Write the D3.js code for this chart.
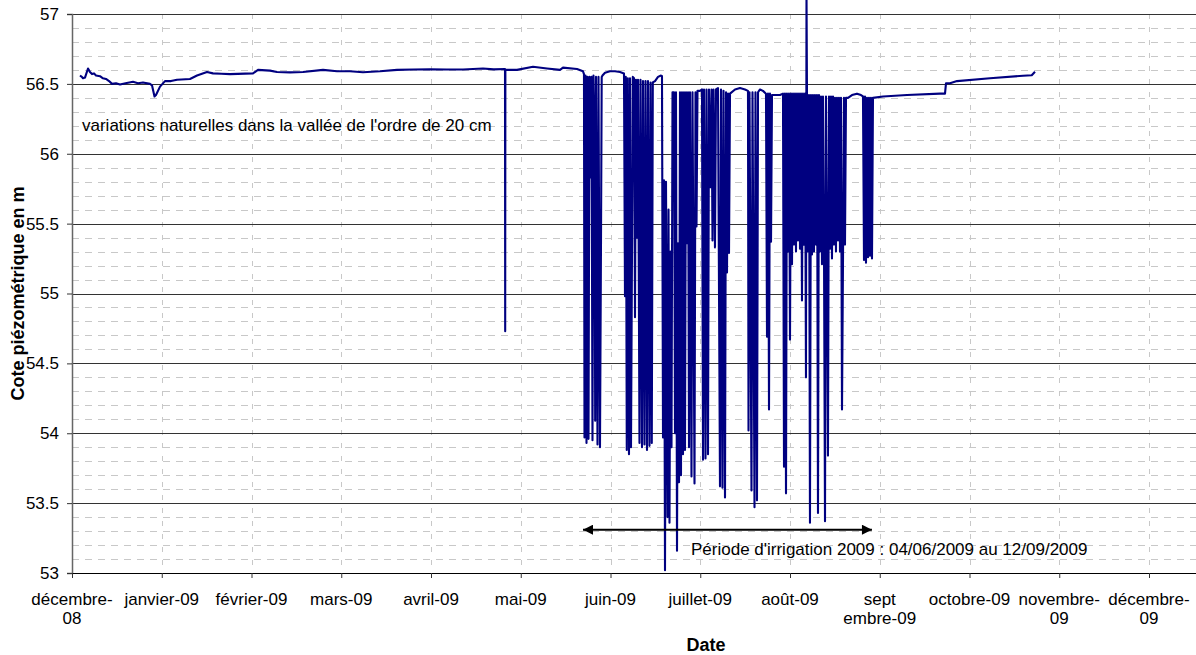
<!DOCTYPE html>
<html lang="fr">
<head>
<meta charset="utf-8">
<script src="https://cdn.jsdelivr.net/npm/d3@7"></script>
<style>
  body { margin: 0; background: #fff; }
  svg { display: block; font-family: "Liberation Sans", Arial, sans-serif; }
</style>
</head>
<body>
<div id="chart"></div>
<script>
// dates = numéros de série Excel (jours depuis le 30/12/1899)
const moisDebut = [39783, 39814, 39845, 39873, 39904, 39934, 39965, 39995, 40026, 40057, 40087, 40118, 40148, 40179];
const moisLabels = [["décembre-", "08"], ["janvier-09"], ["février-09"], ["mars-09"], ["avril-09"], ["mai-09"],
  ["juin-09"], ["juillet-09"], ["août-09"], ["sept", "embre-09"], ["octobre-09"], ["novembre-", "09"], ["décembre-", "09"]];
const coteTicks = [53, 53.5, 54, 54.5, 55, 55.5, 56, 56.5, 57];

// niveau naturel avant l'irrigation
const niveauAvant = [
  [39785.76, 56.56], [39786.40, 56.55], [39786.80, 56.54], [39787.49, 56.545], [39788.53, 56.61], [39789.20, 56.585],
  [39789.91, 56.57], [39790.60, 56.575], [39791.29, 56.56], [39792.67, 56.555], [39793.70, 56.54], [39794.74, 56.535],
  [39795.80, 56.52], [39796.82, 56.50], [39798.20, 56.505], [39799.58, 56.495], [39801.50, 56.505], [39804.07, 56.515],
  [39805.80, 56.505], [39807.52, 56.51], [39809.94, 56.50], [39810.63, 56.49], [39811.50, 56.41],
  [39812.01, 56.42], [39813.40, 56.48], [39815.12, 56.52], [39817.20, 56.52], [39819.27, 56.53], [39823.76, 56.535],
  [39826.18, 56.56], [39829.63, 56.585], [39831.70, 56.575], [39834.60, 56.572], [39837.58, 56.57], [39845.47, 56.575],
  [39847.03, 56.60], [39850.77, 56.595], [39852.96, 56.585], [39857.00, 56.582], [39861.07, 56.585], [39867.31, 56.60],
  [39871.68, 56.59], [39876.00, 56.59], [39880.51, 56.583], [39886.40, 56.59], [39892.26, 56.60], [39898.00, 56.603],
  [39903.65, 56.605], [39909.20, 56.603], [39914.70, 56.603], [39921.38, 56.61], [39925.00, 56.604],
  [39928.74, 56.606], [39928.80, 54.73], [39928.86, 56.60], [39932.75, 56.60],
  [39938.23, 56.623], [39943.07, 56.61], [39947.56, 56.60], [39948.59, 56.616], [39953.43, 56.606]
];

// pompages pendant la période d'irrigation
const niveauIrrigation = [
  [39955.50, 56.59], [39955.84, 56.57], [39956.02, 53.97], [39956.37, 56.56], [39956.71, 53.93],
  [39957.05, 56.55], [39957.40, 53.96], [39957.74, 56.55], [39958.19, 55.83], [39958.43, 56.55],
  [39958.78, 53.95], [39959.12, 56.56], [39959.47, 56.16], [39959.71, 54.09], [39959.99, 56.55],
  [39960.51, 53.92], [39960.85, 56.55], [39961.37, 53.90], [39961.72, 55.38], [39961.96, 56.55],
  [39962.23, 56.56], [39963.10, 56.58], [39964.82, 56.59], [39966.50, 56.59], [39968.17, 56.585],
  [39969.51, 56.575], [39969.84, 54.98], [39970.11, 56.55], [39970.44, 53.88], [39970.78, 56.54],
  [39971.18, 53.85], [39971.52, 56.54], [39971.85, 53.90], [39972.18, 55.29], [39972.45, 56.55],
  [39972.85, 56.54], [39973.19, 54.83], [39973.52, 56.53], [39973.86, 55.40], [39974.19, 56.53],
  [39974.69, 53.93], [39975.03, 56.53], [39975.53, 53.90], [39975.86, 56.52], [39976.36, 53.92],
  [39976.70, 56.52], [39977.20, 53.88], [39977.53, 56.52], [39978.03, 53.91], [39978.37, 56.51],
  [39978.80, 53.93], [39979.14, 56.51], [39979.88, 56.52], [39980.88, 56.55], [39981.88, 56.56],
  [39982.21, 56.555], [39982.55, 53.97], [39982.88, 55.81], [39983.22, 53.02], [39983.55, 55.80],
  [39984.05, 53.40], [39984.39, 55.60], [39984.72, 53.36], [39985.06, 55.30], [39985.39, 53.90],
  [39985.73, 56.44], [39986.23, 56.44], [39986.56, 54.00], [39986.89, 56.44], [39987.23, 53.16],
  [39987.56, 55.36], [39987.90, 53.65], [39988.23, 56.44], [39988.56, 53.70], [39988.90, 56.44],
  [39989.23, 53.85], [39989.57, 56.44], [39989.90, 53.88], [39990.24, 56.44], [39990.57, 55.36],
  [39990.91, 56.44], [39991.24, 53.90], [39991.57, 56.44], [39992.07, 53.69], [39992.41, 56.44],
  [39993.08, 53.64], [39993.41, 56.44], [39993.75, 55.48], [39994.08, 56.45], [39994.41, 56.45],
  [39994.92, 56.45], [39995.60, 56.46], [39995.95, 53.81], [39996.30, 56.46], [39996.81, 53.82],
  [39997.16, 56.46], [39997.68, 53.85], [39998.02, 56.46], [39998.54, 55.76], [39998.89, 56.46],
  [39999.23, 55.38], [39999.58, 56.46], [40000.09, 55.33], [40000.44, 56.46], [40001.13, 56.47],
  [40001.82, 53.62], [40002.17, 56.46], [40002.68, 53.61], [40003.03, 56.45], [40003.55, 53.54],
  [40003.90, 56.44], [40004.24, 55.15], [40004.59, 56.43], [40004.93, 55.29], [40005.28, 56.43],
  [40007.00, 56.46], [40008.73, 56.47], [40010.46, 56.46], [40011.49, 56.45], [40011.67, 54.02],
  [40012.01, 56.44], [40012.70, 53.59], [40013.05, 56.44], [40013.74, 53.47], [40014.08, 56.44],
  [40014.60, 53.52], [40014.95, 56.44], [40015.64, 56.46], [40016.67, 56.45], [40017.71, 56.43],
  [40018.06, 54.69], [40018.40, 56.43], [40018.75, 54.17], [40019.09, 56.43], [40019.44, 55.37],
  [40019.78, 56.42], [40021.16, 56.42], [40022.55, 56.42], [40023.58, 56.43], [40023.93, 53.76],
  [40024.27, 56.43], [40024.62, 53.57], [40024.96, 56.43], [40025.31, 55.30], [40025.65, 56.43],
  [40026.00, 54.67], [40026.35, 56.43], [40026.69, 55.21], [40027.04, 56.43], [40027.38, 55.35],
  [40027.73, 56.43], [40028.07, 55.30], [40028.42, 56.43], [40028.76, 55.38], [40029.11, 56.43],
  [40029.45, 55.32], [40029.80, 56.43], [40030.14, 54.95], [40030.49, 56.43], [40030.83, 55.35],
  [40031.18, 56.43], [40031.52, 54.40], [40031.70, 57.15], [40031.87, 56.42], [40032.21, 55.30],
  [40032.56, 56.42], [40032.90, 53.36], [40033.25, 56.42], [40033.59, 55.28], [40033.94, 56.42],
  [40034.29, 55.30], [40034.63, 56.42], [40034.98, 55.35], [40035.32, 56.42], [40035.67, 53.43],
  [40036.01, 56.42], [40036.36, 55.30], [40036.70, 56.41], [40037.05, 55.21], [40037.39, 56.41],
  [40037.74, 55.35], [40038.09, 53.37], [40038.43, 56.41], [40038.78, 55.30], [40039.12, 53.84],
  [40039.47, 56.41], [40039.81, 55.32], [40040.16, 56.41], [40040.50, 55.25], [40040.85, 56.41],
  [40041.19, 55.35], [40041.54, 56.40], [40041.88, 55.30], [40042.23, 56.40], [40042.58, 55.38],
  [40042.92, 56.40], [40043.27, 55.30], [40043.61, 56.40], [40043.96, 54.17], [40044.30, 55.22],
  [40044.65, 56.40], [40044.99, 55.35], [40045.34, 56.40], [40046.03, 56.40], [40047.41, 56.42],
  [40049.14, 56.43], [40050.52, 56.42], [40051.21, 56.41], [40051.56, 55.24], [40051.90, 56.41],
  [40052.25, 55.22], [40052.59, 56.40], [40052.94, 55.26], [40053.28, 56.40], [40053.63, 55.27],
  [40053.97, 56.40], [40054.32, 55.25], [40054.66, 56.40]
];

// remontée après l'irrigation
const niveauApres = [
  [40058.09, 56.41], [40066.11, 56.42], [40077.14, 56.43], [40078.81, 56.43], [40079.15, 56.505],
  [40080.48, 56.505], [40082.82, 56.52], [40094.08, 56.54], [40105.48, 56.558], [40108.50, 56.562],
  [40109.62, 56.587]
];

const periodeIrrigation = [39955.5, 40054.3];

// dimensions
const W = 1196, H = 655;
const margin = { top: 14, left: 72, bottom: 82 };
const moisLargeur = 89.75;
const bas = H - margin.bottom;
const droite = margin.left + (moisDebut.length - 1) * moisLargeur;

const serial = s => new Date(Date.UTC(1899, 11, 30) + s * 864e5);

// échelles (un mois = une largeur constante, comme dans Excel)
const x = d3.scaleUtc()
  .domain(moisDebut.map(serial))
  .range(moisDebut.map((d, i) => margin.left + i * moisLargeur));

const y = d3.scaleLinear()
  .domain([53, 57])
  .range([bas, margin.top]);

const svg = d3.select("#chart")
  .append("svg")
  .attr("width", W)
  .attr("height", H);

// quadrillage secondaire horizontal (0.1 m)
const mineurs = d3.range(531, 570).filter(v => v % 5 !== 0).map(v => v / 10);
svg.append("g")
  .selectAll("line")
  .data(mineurs)
  .join("line")
  .attr("x1", margin.left).attr("x2", droite)
  .attr("y1", d => Math.round(y(d)) + 0.5).attr("y2", d => Math.round(y(d)) + 0.5)
  .attr("stroke", "#c8c8c8")
  .attr("stroke-dasharray", "7,6");

// quadrillage vertical (mois)
svg.append("g")
  .selectAll("line")
  .data(moisDebut.slice(1))
  .join("line")
  .attr("x1", d => Math.round(x(serial(d))) + 0.5).attr("x2", d => Math.round(x(serial(d))) + 0.5)
  .attr("y1", margin.top).attr("y2", bas)
  .attr("stroke", "#c8c8c8")
  .attr("stroke-dasharray", "5,8");

// quadrillage principal (0.5 m)
svg.append("g")
  .selectAll("line")
  .data(coteTicks.slice(1))
  .join("line")
  .attr("x1", margin.left).attr("x2", droite)
  .attr("y1", d => Math.round(y(d)) + 0.5).attr("y2", d => Math.round(y(d)) + 0.5)
  .attr("stroke", "#333");

// axe Y
const axeY = svg.append("g")
  .attr("transform", `translate(${margin.left},0)`)
  .call(d3.axisLeft(y).tickValues(coteTicks).tickSize(5).tickPadding(8).tickFormat(d => String(d)));
axeY.select(".domain").attr("stroke", "#666").attr("stroke-width", 1.5);
axeY.selectAll("line").attr("stroke", "#333");
axeY.selectAll("text").attr("font-size", 17).attr("fill", "#000")
  .attr("font-family", "'Liberation Sans', Arial, sans-serif");

// axe X
const axeX = svg.append("g")
  .attr("transform", `translate(0,${bas})`)
  .call(d3.axisBottom(x).tickValues(moisDebut.slice(0, 13).map(serial)).tickSize(5).tickSizeOuter(0).tickFormat(""));
axeX.select(".domain").attr("stroke", "#000");
axeX.selectAll("line").attr("stroke", "#333");

svg.append("g")
  .selectAll("text")
  .data(moisLabels)
  .join("text")
  .attr("font-size", 17)
  .attr("text-anchor", "middle")
  .attr("y", bas + 32)
  .each(function(lignes, i) {
    const t = d3.select(this);
    const cx = x(serial(moisDebut[i]));
    lignes.forEach((l, j) => {
      t.append("tspan").attr("x", cx).attr("dy", j === 0 ? 0 : 19).text(l);
    });
  });

// titres des axes
svg.append("text")
  .attr("x", 706).attr("y", H - 4)
  .attr("text-anchor", "middle")
  .attr("font-size", 18).attr("font-weight", "bold")
  .text("Date");

svg.append("text")
  .attr("transform", `translate(24,${(margin.top + bas) / 2}) rotate(-90)`)
  .attr("text-anchor", "middle")
  .attr("font-size", 18).attr("font-weight", "bold")
  .text("Cote piézométrique en m");

// courbe piézométrique
const serie = niveauAvant.concat(niveauIrrigation, niveauApres);
const ligne = d3.line()
  .x(d => x(serial(d[0])))
  .y(d => y(d[1]));

svg.append("path")
  .datum(serie)
  .attr("d", ligne)
  .attr("fill", "none")
  .attr("stroke", "#000080")
  .attr("stroke-width", 2.1)
  .attr("stroke-linejoin", "round");

// annotations
svg.append("text")
  .attr("x", x(serial(39786.45)))
  .attr("y", y(56.163))
  .attr("font-size", 17)
  .text("variations naturelles dans la vallée de l'ordre de 20 cm");

svg.append("defs").append("marker")
  .attr("id", "fleche")
  .attr("viewBox", "0 0 10 10")
  .attr("refX", 10).attr("refY", 5)
  .attr("markerWidth", 11).attr("markerHeight", 10)
  .attr("markerUnits", "userSpaceOnUse")
  .attr("orient", "auto-start-reverse")
  .append("path")
  .attr("d", "M0,0L10,5L0,10Z")
  .attr("fill", "#000");

svg.append("line")
  .attr("x1", x(serial(periodeIrrigation[0])))
  .attr("x2", x(serial(periodeIrrigation[1])))
  .attr("y1", y(53.31)).attr("y2", y(53.31))
  .attr("stroke", "#000")
  .attr("stroke-width", 2)
  .attr("marker-start", "url(#fleche)")
  .attr("marker-end", "url(#fleche)");

svg.append("text")
  .attr("x", x(serial(39991.91)))
  .attr("y", y(53.129))
  .attr("font-size", 17)
  .text("Période d'irrigation 2009 : 04/06/2009 au 12/09/2009");
</script>
</body>
</html>
